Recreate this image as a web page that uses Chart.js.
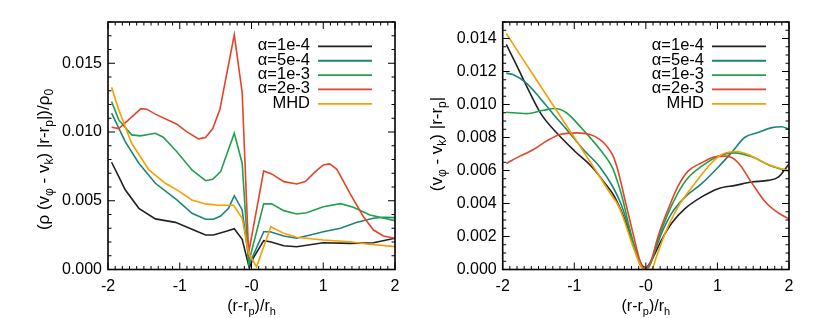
<!DOCTYPE html>
<html><head><meta charset="utf-8">
<script src="https://cdn.jsdelivr.net/npm/chart.js@4"></script>
<style>
html,body{margin:0;padding:0;background:#fff;}
#wrap{position:relative;width:830px;height:318px;overflow:hidden;}
.panel{position:absolute;top:0;width:415px;height:318px;}
</style></head><body>
<div id="wrap">
<div class="panel" style="left:0"><canvas id="c1" width="415" height="318"></canvas></div>
<div class="panel" style="left:415px"><canvas id="c2" width="415" height="318"></canvas></div>
</div>
<script>
// ---- labels & colours ----
const seriesLabels = ['α=1e-4', 'α=5e-4', 'α=1e-3', 'α=2e-3', 'MHD'];
const seriesColors = ['#222222', '#1b8579', '#22a04c', '#e2452a', '#f5a000'];

// ---- ticks ----
const xTickValues = [-2, -1, 0, 1, 2];
const xTickLabels = ['-2', '-1', '-0', '1', '2'];
const leftYTickValues = [0, 0.005, 0.010, 0.015];
const leftYTickLabels = ['0.000', '0.005', '0.010', '0.015'];
const rightYTickValues = [0, 0.002, 0.004, 0.006, 0.008, 0.010, 0.012, 0.014];
const rightYTickLabels = ['0.000', '0.002', '0.004', '0.006', '0.008', '0.010', '0.012', '0.014'];

// ---- left panel data: (rho (v_phi - v_k) |r-r_p|)/rho_0 ----
const lx1 = [-1.95,-1.85,-1.76,-1.57,-1.34,-1.06,-0.83,-0.64,-0.53,-0.34,-0.24,-0.13,-0.03,0.02,0.17,0.26,0.45,0.63,1.0,1.37,1.70,2.0];
const ly1 = [0.0078,0.00675,0.0058,0.00445,0.00368,0.00343,0.00293,0.00251,0.00251,0.0028,0.00297,0.0022,0.0001,0.0008,0.0021,0.00202,0.00173,0.00166,0.00195,0.0019,0.00195,0.00227];
const lx2 = [-1.95,-1.76,-1.57,-1.34,-1.04,-0.83,-0.64,-0.53,-0.43,-0.32,-0.24,-0.13,-0.03,0.17,0.26,0.45,0.63,0.82,1.0,1.24,1.47,1.70,1.84,2.0];
const ly2 = [0.01137,0.0093,0.00773,0.00627,0.00506,0.00409,0.00365,0.00365,0.00389,0.00445,0.00537,0.00433,0.0004,0.00275,0.00275,0.00244,0.00227,0.00251,0.00275,0.003,0.00343,0.00373,0.0038,0.00377];
const lx3 = [-1.95,-1.85,-1.67,-1.55,-1.34,-1.23,-1.04,-0.83,-0.64,-0.54,-0.43,-0.24,-0.13,-0.04,0.17,0.28,0.45,0.63,0.77,1.0,1.24,1.42,1.65,2.0];
const ly3 = [0.01221,0.01088,0.00979,0.00972,0.00991,0.00962,0.00857,0.00724,0.00646,0.00656,0.00712,0.00991,0.00773,0.0005,0.00477,0.00477,0.00428,0.00404,0.00413,0.00457,0.00479,0.00453,0.00397,0.00355];
const lx4 = [-1.95,-1.85,-1.54,-1.46,-1.34,-1.04,-0.92,-0.74,-0.64,-0.54,-0.44,-0.24,-0.13,-0.04,0.17,0.28,0.45,0.63,0.75,0.89,1.0,1.09,1.19,1.37,1.56,1.70,1.84,2.0];
const ly4 = [0.01035,0.01025,0.0117,0.01166,0.0113,0.01057,0.01008,0.0095,0.0096,0.01025,0.01166,0.01707,0.01287,0.0012,0.00717,0.00695,0.00639,0.00622,0.00639,0.00712,0.0076,0.00768,0.00729,0.00555,0.00384,0.00287,0.00244,0.00227];
const lx5 = [-1.95,-1.85,-1.67,-1.43,-1.20,-1.04,-0.83,-0.64,-0.46,-0.25,-0.13,-0.04,0.07,0.27,0.45,0.63,1.0,1.37,1.61,2.0];
const ly5 = [0.01326,0.01161,0.00918,0.00724,0.00627,0.00579,0.00506,0.00477,0.00467,0.00467,0.00373,0.00118,0.0002,0.00311,0.00263,0.00234,0.00215,0.00202,0.00186,0.00166];

// ---- right panel data: (v_phi - v_k) |r-r_p| ----
const rx1 = [-1.95,-1.80,-1.62,-1.46,-1.25,-1.0,-0.75,-0.55,-0.45,-0.32,-0.18,-0.06,0.0,0.06,0.12,0.22,0.36,0.55,0.78,1.01,1.25,1.48,1.71,1.85,2.0];
const ry1 = [0.01364,0.01232,0.01071,0.0094,0.0083,0.0072,0.0062,0.0051,0.0045,0.0033,0.0016,0.0003,0.0001,0.0004,0.0009,0.0018,0.0028,0.0037,0.0044,0.0049,0.0051,0.0053,0.0054,0.0056,0.0064];
const rx2 = [-1.95,-1.85,-1.67,-1.48,-1.29,-1.11,-0.88,-0.64,-0.46,-0.35,-0.25,-0.15,-0.05,0.0,0.08,0.22,0.36,0.55,0.78,1.01,1.20,1.38,1.57,1.76,1.90,2.0];
const ry2 = [0.0119,0.0118,0.0113,0.0104,0.0094,0.0085,0.0073,0.0062,0.0050,0.0040,0.0027,0.0012,0.0001,0.0001,0.0006,0.0022,0.0034,0.0044,0.0052,0.0062,0.0071,0.0080,0.0083,0.0086,0.00865,0.0085];
const rx3 = [-1.95,-1.67,-1.43,-1.27,-1.11,-0.88,-0.64,-0.46,-0.38,-0.32,-0.25,-0.18,-0.1,-0.04,0.03,0.08,0.17,0.31,0.45,0.59,0.78,1.01,1.24,1.48,1.76,2.0];
const ry3 = [0.00953,0.00945,0.00965,0.00976,0.0095,0.00848,0.00727,0.0061,0.0051,0.0042,0.0029,0.0017,0.0006,0.0001,0.0001,0.0005,0.0018,0.0034,0.00465,0.00556,0.00626,0.00687,0.00707,0.00683,0.00626,0.00596];
const rx4 = [-1.95,-1.76,-1.57,-1.39,-1.20,-0.97,-0.78,-0.65,-0.55,-0.46,-0.39,-0.28,-0.18,-0.08,-0.03,0.03,0.08,0.17,0.31,0.45,0.59,0.78,0.97,1.13,1.29,1.48,1.66,1.85,2.0];
const ry4 = [0.00642,0.00687,0.00727,0.00778,0.00818,0.00828,0.00818,0.0079,0.0075,0.0069,0.0060,0.0040,0.0022,0.0005,0.0001,0.0001,0.0006,0.002,0.00364,0.00505,0.00596,0.00647,0.00683,0.00687,0.00647,0.00525,0.00414,0.00343,0.00307];
const rx5 = [-1.95,-1.5,-1.0,-0.7,-0.48,-0.4,-0.32,-0.18,-0.08,-0.03,0.08,0.15,0.27,0.45,0.69,0.92,1.06,1.27,1.48,1.71,2.0];
const ry5 = [0.0143,0.0113,0.0080,0.0060,0.0045,0.0040,0.0032,0.0014,0.0003,0.0,0.0,0.0008,0.0022,0.0038,0.00525,0.00647,0.00697,0.00715,0.00687,0.00636,0.00596];

const FONT = '"Liberation Sans", Arial, Helvetica, sans-serif';

function pts(xs, ys) { return xs.map((x, i) => ({ x: x, y: ys[i] })); }

function drawRich(ctx, segs, size, subSize, subDrop) {
  let w = 0;
  segs.forEach(s => { ctx.font = (s[1] ? subSize : size) + 'px ' + FONT; w += ctx.measureText(s[0]).width; });
  let x = -w / 2;
  ctx.textAlign = 'left';
  ctx.textBaseline = 'alphabetic';
  segs.forEach(s => {
    ctx.font = (s[1] ? subSize : size) + 'px ' + FONT;
    ctx.fillText(s[0], x, s[1] ? subDrop : 0);
    x += ctx.measureText(s[0]).width;
  });
}

function makeDecor(cfg) {
  return {
    id: 'decor',
    afterDatasetsDraw(chart) {
      const ctx = chart.ctx, a = chart.chartArea, xs = chart.scales.x, ys = chart.scales.y;
      ctx.save();
      ctx.strokeStyle = '#000';
      ctx.lineWidth = 1;
      const line = (x1, y1, x2, y2) => { ctx.beginPath(); ctx.moveTo(x1, y1); ctx.lineTo(x2, y2); ctx.stroke(); };
      const nx = Math.round((xs.max - xs.min) / cfg.xMinor);
      for (let i = 0; i <= nx; i++) {
        const v = xs.min + i * cfg.xMinor;
        const px = xs.getPixelForValue(v);
        const r = v / cfg.xMajor;
        const L = Math.abs(r - Math.round(r)) < 1e-6 ? 7 : 3.5;
        line(px, a.bottom, px, a.bottom - L);
        line(px, a.top, px, a.top + L);
      }
      const ny = Math.floor((ys.max - ys.min) / cfg.yMinor + 1e-6);
      for (let i = 0; i <= ny; i++) {
        const v = ys.min + i * cfg.yMinor;
        const py = ys.getPixelForValue(v);
        const r = v / cfg.yMajor;
        const L = Math.abs(r - Math.round(r)) < 1e-6 ? 7 : 3.5;
        line(a.left, py, a.left + L, py);
        line(a.right, py, a.right - L, py);
      }
      ctx.lineWidth = 1.6;
      ctx.strokeRect(a.left, a.top, a.right - a.left, a.bottom - a.top);
      chart.data.datasets.forEach((ds, i) => {
        const rowY = a.top + 24.4 + i * 14.35;
        ctx.fillStyle = '#000';
        ctx.font = '16.5px ' + FONT;
        ctx.textAlign = 'right';
        ctx.textBaseline = 'alphabetic';
        ctx.fillText(ds.label, a.right - 85, rowY + 4);
        ctx.strokeStyle = ds.borderColor;
        ctx.lineWidth = 1.8;
        line(a.right - 77, rowY, a.right - 23, rowY);
      });
      ctx.fillStyle = '#000';
      ctx.save();
      ctx.translate((a.left + a.right) / 2, 311);
      drawRich(ctx, cfg.xTitle, 16, 11, 4);
      ctx.restore();
      ctx.save();
      ctx.translate(cfg.yTitleX, cfg.yTitleY);
      ctx.rotate(-Math.PI / 2);
      drawRich(ctx, cfg.yTitle, 17, 12, 4);
      ctx.restore();
      ctx.restore();
    }
  };
}

function makeChart(id, xsArr, ysArr, yMax, yTicks, yLabels, padRight, yWidth, smooth, decor) {
  const datasets = seriesLabels.map((lab, i) => ({
    label: lab,
    data: pts(xsArr[i], ysArr[i]),
    borderColor: seriesColors[i],
    backgroundColor: seriesColors[i],
    borderWidth: 1.6,
    pointRadius: 0,
    fill: false,
    tension: 0,
    cubicInterpolationMode: smooth ? 'monotone' : 'default',
    order: 4 - i
  }));
  return new Chart(document.getElementById(id), {
    type: 'line',
    data: { datasets: datasets },
    options: {
      responsive: false,
      animation: false,
      devicePixelRatio: 1,
      layout: { padding: { left: 0, right: padRight, top: 22, bottom: 0 } },
      plugins: { legend: { display: false }, tooltip: { enabled: false } },
      scales: {
        x: {
          type: 'linear', min: -2, max: 2,
          afterBuildTicks: s => { s.ticks = xTickValues.map(v => ({ value: v })); },
          afterFit: s => { s.height = 48.5; },
          ticks: { autoSkip: false, maxRotation: 0, padding: 7, color: '#000', font: { family: FONT, size: 16 },
                   callback: (v, i) => xTickLabels[i] },
          grid: { display: false, drawTicks: false },
          border: { display: false }
        },
        y: {
          type: 'linear', min: 0, max: yMax,
          afterBuildTicks: s => { s.ticks = yTicks.map(v => ({ value: v })); },
          afterFit: s => { s.width = yWidth; },
          ticks: { autoSkip: false, padding: 6, color: '#000', font: { family: FONT, size: 16 },
                   callback: (v, i) => yLabels[i] },
          grid: { display: false, drawTicks: false },
          border: { display: false }
        }
      }
    },
    plugins: [makeDecor(decor)]
  });
}

const xTitleSegs = [['(r-r', 0], ['p', 1], [')/r', 0], ['h', 1]];

makeChart('c1', [lx1, lx2, lx3, lx4, lx5], [ly1, ly2, ly3, ly4, ly5],
  0.018, leftYTickValues, leftYTickLabels, 20, 108, false,
  { xMinor: 0.1, xMajor: 1, yMinor: 0.001, yMajor: 0.005, xTitle: xTitleSegs,
    yTitle: [['(ρ (v', 0], ['φ', 1], [' - v', 0], ['k', 1], [') |r-r', 0], ['p', 1], ['|)/ρ', 0], ['0', 1]],
    yTitleX: 49, yTitleY: 159.5 });

makeChart('c2', [rx1, rx2, rx3, rx4, rx5], [ry1, ry2, ry3, ry4, ry5],
  0.015, rightYTickValues, rightYTickLabels, 41, 87.7, true,
  { xMinor: 0.1, xMajor: 1, yMinor: 0.0005, yMajor: 0.002, xTitle: xTitleSegs,
    yTitle: [['(v', 0], ['φ', 1], [' - v', 0], ['k', 1], [') |r-r', 0], ['p', 1], ['|', 0]],
    yTitleX: 26.7, yTitleY: 144 });
</script>
</body></html>
